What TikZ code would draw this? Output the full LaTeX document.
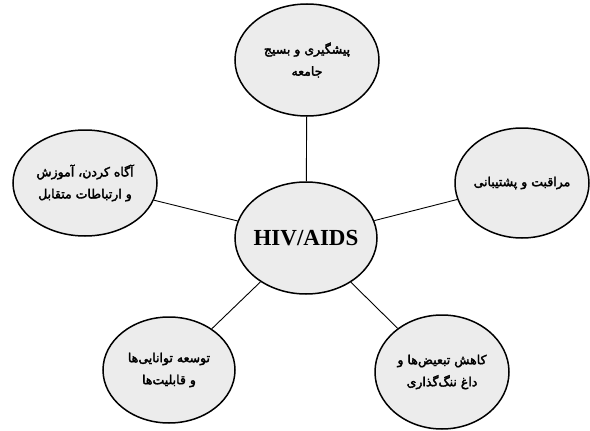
\documentclass[tikz,border=0pt]{standalone}
\usepackage{fontspec}
\setmainfont{Liberation Serif}
\newfontfamily\farsi[Script=Arabic, FakeBold=2.6]{DejaVu Sans}
\TeXXeTstate=1
\usetikzlibrary{shapes.geometric}
\newcommand{\fa}[1]{\beginR #1\endR}

\begin{document}
\begin{tikzpicture}[x=1pt, y=-1pt,
	topic/.style={draw, ellipse, line width=1.5pt, fill=gray!15, inner xsep=-14pt, inner ysep=0pt, minimum width=138pt, minimum height=108pt, align=center, font=\farsi\fontsize{12.5}{22}\selectfont},
	link/.style={line width=0.9pt}]
	\useasboundingbox (0,0) rectangle (590,431);
	\node[topic, minimum width=142pt, minimum height=112pt, font=\bfseries\fontsize{23}{26}\selectfont] (H) at (306,238) {HIV/AIDS};
	\node[topic, minimum width=144pt, minimum height=112pt] (P) at (307,60) {\fa{پیشگیری و بسیج}\\\fa{جامعه}};
	\node[topic, minimum width=144pt, minimum height=106pt] (A) at (85,183) {\fa{آگاه کردن، آموزش}\\\fa{و ارتباطات متقابل}};
	\node[topic, minimum width=134pt, minimum height=110pt] (M) at (522,183) {\fa{مراقبت و پشتیبانی}};
	\node[topic, minimum width=132pt, minimum height=106pt] (T) at (169,370) {\fa{توسعه توانایی^^^^200cها}\\\fa{و قابلیت^^^^200cها}};
	\node[topic, minimum width=134pt, minimum height=114pt] (K) at (442,372) {\fa{کاهش تبعیض^^^^200cها و}\\\fa{داغ ننگ^^^^200cگذاری}};
	\draw[link] (H) -- (P);
	\draw[link] (H) -- (A);
	\draw[link] (H) -- (M);
	\draw[link] (H) -- (T);
	\draw[link] (H) -- (K);
\end{tikzpicture}
\end{document}
